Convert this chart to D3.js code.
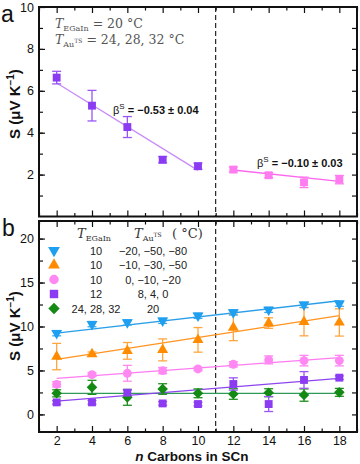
<!DOCTYPE html>
<html>
<head>
<meta charset="utf-8">
<script src="https://cdn.jsdelivr.net/npm/d3@7"></script>
<style>
  body { margin: 0; background: #fff; }
  text { font-family: "Liberation Sans", Arial, sans-serif; }
  .serif { font-family: "DejaVu Serif", "Liberation Serif", serif; }
</style>
</head>
<body>
<div id="chart"></div>
<script>
var width = 360,
    height = 464;

// panel a data
var nLow = [2, 4, 6, 8, 10];
var sLow = [6.63, 5.29, 4.27, 2.71, 2.4];
var eLow = [0.3, 0.73, 0.5, 0.15, 0.15];
var nHigh = [12, 14, 16, 18];
var sHigh = [2.24, 1.97, 1.63, 1.76];
var eHigh = [0.12, 0.12, 0.25, 0.2];
var fitLow = [[2, 6.37], [10, 2.2]];
var fitHigh = [[12, 2.22], [18, 1.68]];

// panel b data
var nAll = [2, 4, 6, 8, 10, 12, 14, 16, 18];
var sBlue = [9.24, 10.27, 10.46, 10.65, 11.22, 11.6, 11.9, 12.47, 12.6];
var eBlue = [0.3, 0.3, 0.3, 0.3, 0.3, 0.3, 0.3, 0.3, 0.3];
var sOrange = [6.58, 6.85, 7.23, 7.34, 8.48, 9.89, 10.39, 10.54, 10.46];
var eOrange = [1.5, 0.25, 0.95, 1.25, 1.4, 1.5, 0.6, 1.6, 1.55];
var sPink = [3.42, 4.52, 4.68, 4.98, 5.17, 5.7, 6.2, 6.12, 6.12];
var ePink = [0.3, 0.2, 0.9, 0.35, 0.2, 0.3, 0.45, 0.6, 0.6];
var sPurple = [1.37, 1.37, 2.47, 1.25, 1.18, 3.46, 1.18, 3.92, 4.18];
var ePurple = [0.2, 0.2, 0.3, 0.2, 0.2, 0.7, 0.85, 0.95, 0.2];
var sGreen = [2.4, 3.08, 1.94, 2.89, 2.4, 2.32, 2.47, 2.2, 2.51];
var eGreen = [0.4, 0.8, 0.9, 0.6, 0.5, 0.6, 0.45, 0.7, 0.45];
var fitBlue = [[2, 9.25], [18, 12.93]];
var fitOrange = [[2, 6.27], [18, 11.24]];
var fitPink = [[2, 4.11], [18, 6.46]];
var fitPurple = [[2, 1.52], [18, 4.11]];
var fitGreen = [[2, 2.4], [18, 2.4]];

// legend of panel b
var legendEGaIn = ["10", "10", "10", "12", "24, 28, 32"];
var legendAu = ["\u221220, \u221250, \u221280", "\u221210, \u221230, \u221250", "0, \u221210, \u221220", "8, 4, 0", "20"];

var xTicks = [2, 4, 6, 8, 10, 12, 14, 16, 18];
var yTicksA = [2, 4, 6, 8, 10];
var yTicksB = [0, 5, 10, 15, 20];

var svg = d3.select("#chart").append("svg")
    .attr("width", width)
    .attr("height", height)

var x = d3.scaleLinear().domain([1, 19]).range([39, 357]);
var yA = d3.scaleLinear().domain([0, 10]).range([216.5, 7]);
var yB = d3.scaleLinear().domain([-2, 22]).range([432, 221]);

var line = function(y) {
  return d3.line().x(function(d){ return x(d[0]) }).y(function(d){ return y(d[1]) })
}

/* axes with inward ticks on all four sides */
function frame(y, majors, minors, labelX) {
  var g = svg.append("g")
  var x0 = x.range()[0], x1 = x.range()[1], y0 = y.range()[0], y1 = y.range()[1];
  var odd = d3.range(1, 20).filter(function(v){ return v % 2 });

  // bottom and top ticks
  g.append("g").attr("transform", "translate(0," + y0 + ")")
    .call(d3.axisBottom(x).tickValues(odd).tickSize(-3.5).tickFormat(""))
  g.append("g").attr("transform", "translate(0," + y0 + ")")
    .call(d3.axisBottom(x).tickValues(xTicks).tickSize(-6).tickPadding(4)
      .tickFormat(labelX ? d3.format("d") : ""))
  g.append("g").attr("transform", "translate(0," + y1 + ")")
    .call(d3.axisTop(x).tickValues(odd).tickSize(-3.5).tickFormat(""))
  g.append("g").attr("transform", "translate(0," + y1 + ")")
    .call(d3.axisTop(x).tickValues(xTicks).tickSize(-6).tickFormat(""))

  // left and right ticks
  g.append("g").attr("transform", "translate(" + x0 + ",0)")
    .call(d3.axisLeft(y).tickValues(minors).tickSize(-4).tickFormat(""))
  g.append("g").attr("transform", "translate(" + x0 + ",0)")
    .call(d3.axisLeft(y).tickValues(majors).tickSize(-6).tickPadding(5).tickFormat(d3.format("d")))
  g.append("g").attr("transform", "translate(" + x1 + ",0)")
    .call(d3.axisRight(y).tickValues(minors).tickSize(-5).tickFormat(""))

  g.selectAll(".domain").remove()
  g.selectAll(".tick line").attr("stroke", "#111").attr("stroke-width", 1.2)
  g.selectAll(".tick text").attr("font-size", 12.5).attr("fill", "#111")
    .attr("font-family", "'Liberation Sans', Arial, sans-serif")

  g.append("rect")
    .attr("x", x0).attr("y", y1)
    .attr("width", x1 - x0).attr("height", y0 - y1)
    .attr("fill", "none").attr("stroke", "#111").attr("stroke-width", 2)

  // dashed divider between n = 10 and n = 12
  g.append("line")
    .attr("x1", x(11)).attr("x2", x(11))
    .attr("y1", y1).attr("y2", y0)
    .attr("stroke", "#111").attr("stroke-width", 1.1)
    .attr("stroke-dasharray", "5,3")
}

frame(yA, yTicksA, d3.range(1, 10), false)
frame(yB, yTicksB, d3.range(-2.5, 22, 2.5).filter(function(v){ return v > -2 }), true)

/* marker shapes: triangle down, triangle up, circle, square, diamond */
var shapes = {
  down:    {type: d3.symbolTriangle, size: 52, rot: 180},
  up:      {type: d3.symbolTriangle, size: 52, rot: 0},
  circle:  {type: d3.symbolCircle, size: 62, rot: 0},
  square:  {type: d3.symbolSquare, size: 62, rot: 0},
  diamond: {type: d3.symbolSquare, size: 56, rot: 45}
}

/* error bars + markers for one series */
function series(y, ns, vals, errs, color, errColor, shape) {
  var pts = ns.map(function(n, i){ return {n: n, v: vals[i], e: errs[i]} })
  var sh = shapes[shape]
  var g = svg.append("g")
  var eb = g.selectAll("g.err").data(pts).enter().append("g")
  eb.append("line")
    .attr("x1", function(d){ return x(d.n) }).attr("x2", function(d){ return x(d.n) })
    .attr("y1", function(d){ return y(d.v - d.e) }).attr("y2", function(d){ return y(d.v + d.e) })
    .attr("stroke", errColor).attr("stroke-width", 1.3)
  ;[-1, 1].forEach(function(s) {
    eb.append("line")
      .attr("x1", function(d){ return x(d.n) - 4.5 }).attr("x2", function(d){ return x(d.n) + 4.5 })
      .attr("y1", function(d){ return y(d.v + s * d.e) }).attr("y2", function(d){ return y(d.v + s * d.e) })
      .attr("stroke", errColor).attr("stroke-width", 1.3)
  })
  g.selectAll("path.mk").data(pts).enter().append("path")
    .attr("d", d3.symbol().type(sh.type).size(sh.size))
    .attr("transform", function(d){ return "translate(" + x(d.n) + "," + y(d.v) + ") rotate(" + sh.rot + ")" })
    .attr("fill", color)
}

function fit(y, pts, color, w) {
  svg.append("path")
    .attr("d", line(y)(pts))
    .attr("fill", "none").attr("stroke", color).attr("stroke-width", w || 1.3)
}

// panel a
fit(yA, fitLow, "#c98af8")
fit(yA, fitHigh, "#ff66ee")
series(yA, nLow, sLow, eLow, "#8b3cf2", "#9a55f5", "square")
series(yA, nHigh, sHigh, eHigh, "#ff7cf0", "#ff7cf0", "square")

// panel b
fit(yB, fitGreen, "#2e9a58")
fit(yB, fitPurple, "#8d45ee")
fit(yB, fitPink, "#ff7cf0")
fit(yB, fitOrange, "#ff9420")
fit(yB, fitBlue, "#2a9ee8")
series(yB, nAll, sGreen, eGreen, "#138a13", "#1e8f1e", "diamond")
series(yB, nAll, sPurple, ePurple, "#8b3cf2", "#9a55f5", "square")
series(yB, nAll, sPink, ePink, "#ff88f2", "#ff88f2", "circle")
series(yB, nAll, sOrange, eOrange, "#ff8c00", "#ffa640", "up")
series(yB, nAll, sBlue, eBlue, "#1e9ff0", "#3aaaf0", "down")

/* legend of panel b */
var legendShapes = ["down", "up", "circle", "square", "diamond"]
var legendColors = ["#1e9ff0", "#ff8c00", "#ff88f2", "#8b3cf2", "#138a13"]
var rows = svg.append("g").selectAll("g").data(legendEGaIn).enter().append("g")
  .attr("transform", function(d, i){ return "translate(0," + (250.5 + i * 14.5) + ")" })
rows.append("path")
  .attr("d", function(d, i){ var s = shapes[legendShapes[i]]; return d3.symbol().type(s.type).size(s.size * 1.15)() })
  .attr("transform", function(d, i){ return "translate(54,0) rotate(" + shapes[legendShapes[i]].rot + ")" })
  .attr("fill", function(d, i){ return legendColors[i] })
rows.append("text")
  .attr("x", 96).attr("y", 4).attr("text-anchor", "middle")
  .attr("font-size", 11).attr("fill", "#222")
  .text(function(d){ return d })
rows.append("text")
  .attr("x", 153).attr("y", 4).attr("text-anchor", "middle")
  .attr("font-size", 11).attr("fill", "#222")
  .text(function(d, i){ return legendAu[i] })

var hdr = svg.append("text").attr("class", "serif").attr("x", 77).attr("y", 238)
  .attr("font-size", 13).attr("fill", "#333")
hdr.append("tspan").attr("font-style", "italic").text("T")
hdr.append("tspan").attr("font-size", 8).attr("dy", 3).text("EGaIn")
var hdr2 = svg.append("text").attr("class", "serif").attr("x", 134).attr("y", 238)
  .attr("font-size", 13).attr("fill", "#333")
hdr2.append("tspan").attr("font-style", "italic").text("T")
hdr2.append("tspan").attr("font-size", 8).attr("dy", 3).text("Au")
hdr2.append("tspan").attr("font-size", 6).attr("dy", -4).text("TS")
svg.append("text").attr("class", "serif").attr("x", 172).attr("y", 238)
  .attr("font-size", 13).attr("fill", "#333").text("( \u00b0C)")

/* conditions in panel a */
var c1 = svg.append("text").attr("class", "serif").attr("x", 55).attr("y", 28)
  .attr("font-size", 12.5).attr("fill", "#555")
c1.append("tspan").attr("font-style", "italic").text("T")
c1.append("tspan").attr("font-size", 8).attr("dy", 3).text("EGaIn")
c1.append("tspan").attr("dy", -3).text(" = 20 \u00b0C")
var c2 = svg.append("text").attr("class", "serif").attr("x", 55).attr("y", 44)
  .attr("font-size", 12.5).attr("fill", "#555")
c2.append("tspan").attr("font-style", "italic").text("T")
c2.append("tspan").attr("font-size", 8).attr("dy", 3).text("Au")
c2.append("tspan").attr("font-size", 6).attr("dy", -4).text("TS")
c2.append("tspan").attr("dy", 1).text(" = 24, 28, 32 \u00b0C")

/* slope annotations */
function beta(xp, yp, txt) {
  var t = svg.append("text").attr("x", xp).attr("y", yp).attr("font-size", 11).attr("fill", "#111")
  t.append("tspan").text("\u03b2")
  t.append("tspan").attr("font-size", 8).attr("dy", -5).text("S")
  t.append("tspan").attr("dy", 5).attr("font-weight", "bold").text(" = " + txt)
}
beta(113, 114, "\u22120.53 \u00b1 0.04")
beta(257, 167, "\u22120.10 \u00b1 0.03")

/* axis titles and panel letters */
function ytitle(cy) {
  var t = svg.append("text")
    .attr("transform", "translate(20," + cy + ") rotate(-90)")
    .attr("text-anchor", "middle").attr("font-size", 15).attr("font-weight", "bold").attr("fill", "#111")
  t.append("tspan").text("S (\u03bcV K")
  t.append("tspan").attr("font-size", 10).attr("dy", -6).text("\u22121")
  t.append("tspan").attr("dy", 6).text(")")
}
ytitle(104)
ytitle(326)

var xt = svg.append("text").attr("x", 192).attr("y", 461).attr("text-anchor", "middle")
  .attr("font-size", 13.5).attr("font-weight", "bold").attr("fill", "#111")
xt.append("tspan").attr("font-style", "italic").text("n")
xt.append("tspan").text(" Carbons in SCn")

svg.append("text").attr("x", 1).attr("y", 22).attr("font-size", 23).attr("fill", "#111").text("a")
svg.append("text").attr("x", 2).attr("y", 236).attr("font-size", 23).attr("fill", "#111").text("b")
</script>
</body>
</html>
